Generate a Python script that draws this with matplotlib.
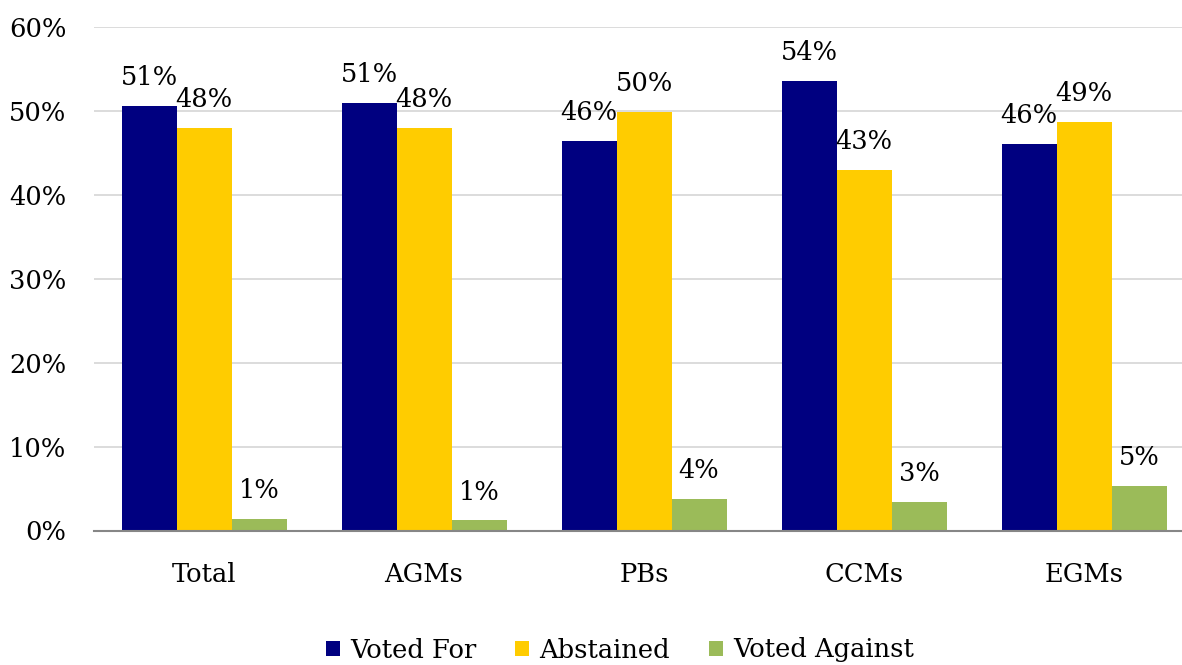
import matplotlib.pyplot as plt
import numpy as np
from matplotlib.patches import Patch

# values (percent)
categories = ['Total', 'AGMs', 'PBs', 'CCMs', 'EGMs']
voted_for = [50.6, 51.0, 46.4, 53.6, 46.1]
abstained = [48.0, 48.0, 49.9, 43.0, 48.7]
voted_against = [1.4, 1.2, 3.8, 3.4, 5.3]
series_names = ['Voted For', 'Abstained', 'Voted Against']
colors = ['#000080', '#FFCC00', '#9BBB59']
y_ticks = [0, 10, 20, 30, 40, 50, 60]

plt.rcParams['font.family'] = ['DejaVu Serif']
FS = 18.5

fig = plt.figure(figsize=(11.82, 6.65), dpi=100)
ax = fig.add_axes([94 / 1182, 1 - 530.5 / 665, 1100 / 1182, 503.5 / 665])

x = np.arange(len(categories))
width = 0.25
all_series = [voted_for, abstained, voted_against]
for i, (vals, col) in enumerate(zip(all_series, colors)):
    pos = x + (i - 1) * width
    ax.bar(pos, vals, width, color=col, zorder=3)
    for px, v in zip(pos, vals):
        ax.annotate(f'{round(v):d}%', (px, v), xytext=(0, 15), textcoords='offset points',
                    ha='center', va='baseline', fontsize=FS, zorder=4)

ax.set_xlim(-0.5, len(categories) - 0.5)
ax.set_ylim(0, 60)
ax.set_yticks(y_ticks)
ax.set_yticklabels([f'{t}%' for t in y_ticks])
ax.set_xticks(x)
ax.set_xticklabels(categories)
ax.tick_params(axis='both', length=0, labelsize=FS)
ax.tick_params(axis='y', pad=20)
ax.tick_params(axis='x', pad=23)

ax.grid(axis='y', color='#D9D9D9', linewidth=1.3, zorder=0)
for s in ['top', 'right', 'left']:
    ax.spines[s].set_visible(False)
ax.spines['bottom'].set_color('#868686')
ax.spines['bottom'].set_linewidth(1.5)
ax.spines['bottom'].set_zorder(5)

handles = [Patch(facecolor=c, edgecolor='none') for c in colors]
fig.legend(handles, series_names, loc='center', bbox_to_anchor=(620 / 1182, 1 - 650 / 665),
           ncol=3, frameon=False, fontsize=FS, handlelength=0.55, handleheight=0.55,
           handletextpad=0.4, columnspacing=1.5)

fig.savefig('out.png', dpi=100)
